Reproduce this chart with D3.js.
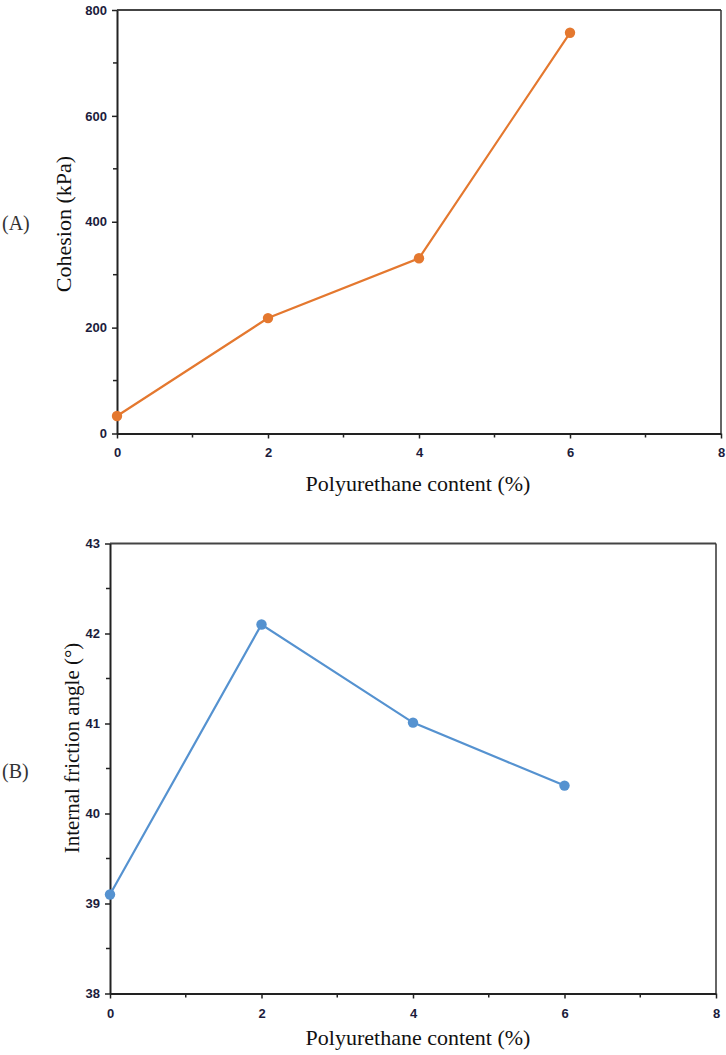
<!DOCTYPE html>
<html><head><meta charset="utf-8">
<script src="https://cdn.jsdelivr.net/npm/d3@7"></script>
<style>body{margin:0;background:#fff}svg{display:block}</style>
</head><body>
<script>
const content = [0, 2, 4, 6];
const cohesion = [33, 218, 331, 757];
const frictionAngle = [39.1, 42.1, 41.01, 40.31];
const xTicks = [0, 2, 4, 6, 8];
const cohesionTicks = [0, 200, 400, 600, 800];
const angleTicks = [38, 39, 40, 41, 42, 43];

const W = 726, H = 1055;
const svg = d3.select("body").append("svg").attr("width", W).attr("height", H);

function panel(o) {
  const x = d3.scaleLinear().domain([0, 8]).range([o.left, o.right]);
  const y = d3.scaleLinear().domain(o.ydom).range([o.bottom, o.top]);
  const g = svg.append("g");
  g.append("line").attr("x1", o.left).attr("x2", o.right).attr("y1", o.top).attr("y2", o.top)
    .attr("stroke", "#444").attr("stroke-width", 2);
  g.append("line").attr("x1", o.right).attr("x2", o.right).attr("y1", o.top).attr("y2", o.bottom)
    .attr("stroke", "#333").attr("stroke-width", 1.5);
  const xminor = d3.range(1, 8, 2);
  g.selectAll(".xm").data(xminor).join("line")
    .attr("x1", d => x(d)).attr("x2", d => x(d)).attr("y1", o.bottom).attr("y2", o.bottom + 4)
    .attr("stroke", "#222").attr("stroke-width", 1.5);
  const step = o.yticks[1] - o.yticks[0];
  const yminor = o.yticks.slice(0, -1).map(v => v + step / 2);
  g.selectAll(".ym").data(yminor).join("line")
    .attr("x1", o.left - 4).attr("x2", o.left).attr("y1", d => y(d)).attr("y2", d => y(d))
    .attr("stroke", "#222").attr("stroke-width", 1.5);
  const xa = g.append("g").attr("transform", `translate(0,${o.bottom})`)
    .call(d3.axisBottom(x).tickValues(xTicks).tickFormat(d3.format("d")).tickSize(5).tickPadding(o.xpad).tickSizeOuter(0));
  const ya = g.append("g").attr("transform", `translate(${o.left},0)`)
    .call(d3.axisLeft(y).tickValues(o.yticks).tickFormat(d3.format("d")).tickSize(5).tickPadding(5).tickSizeOuter(0));
  [xa, ya].forEach(a => {
    a.select(".domain").attr("stroke", "#222").attr("stroke-width", 2);
    a.selectAll(".tick line").attr("stroke", "#222").attr("stroke-width", 1.5);
    a.selectAll(".tick text").attr("fill", "#1c1c3c")
      .style("font-family", "Liberation Sans, Arial, sans-serif").style("font-weight", "bold").style("font-size", "13px");
  });
  const pts = content.map((c, i) => [c, o.values[i]]);
  g.append("path").datum(pts)
    .attr("d", d3.line().x(d => x(d[0])).y(d => y(d[1])))
    .attr("fill", "none").attr("stroke", o.color).attr("stroke-width", 2.2);
  g.selectAll(".pt").data(pts).join("circle")
    .attr("cx", d => x(d[0])).attr("cy", d => y(d[1])).attr("r", 5.2).attr("fill", o.color);
  g.append("text").attr("x", 418).attr("y", o.xtitleY)
    .attr("text-anchor", "middle").style("font-family", "Liberation Serif, Times New Roman, serif")
    .style("font-size", "22px").attr("fill", "#111").text("Polyurethane content (%)");
  g.append("text").attr("transform", `translate(${o.ytx},${o.ytcy}) rotate(-90)`)
    .attr("text-anchor", "middle").style("font-family", "Liberation Serif, Times New Roman, serif")
    .style("font-size", o.ytsize).attr("fill", "#111").text(o.ytitle);
  g.append("text").attr("x", 2).attr("y", o.labelY)
    .style("font-family", "Liberation Serif, Times New Roman, serif").style("font-size", "20px")
    .attr("fill", "#333").text(o.label);
}

panel({left: 117, right: 721, top: 10, bottom: 433.5, ydom: [0, 800], yticks: cohesionTicks,
  values: cohesion, color: "#E4782F", ytitle: "Cohesion (kPa)", ytx: 71, ytcy: 224, ytsize: "22px", label: "(A)", labelY: 230,
  xpad: 9, xtitleY: 491});
panel({left: 110, right: 716, top: 543.5, bottom: 993.5, ydom: [38, 43], yticks: angleTicks,
  values: frictionAngle, color: "#5592D0", ytitle: "Internal friction angle (°)", ytx: 79, ytcy: 748, ytsize: "21px", label: "(B)", labelY: 778,
  xpad: 10, xtitleY: 1045});
</script>
</body></html>
